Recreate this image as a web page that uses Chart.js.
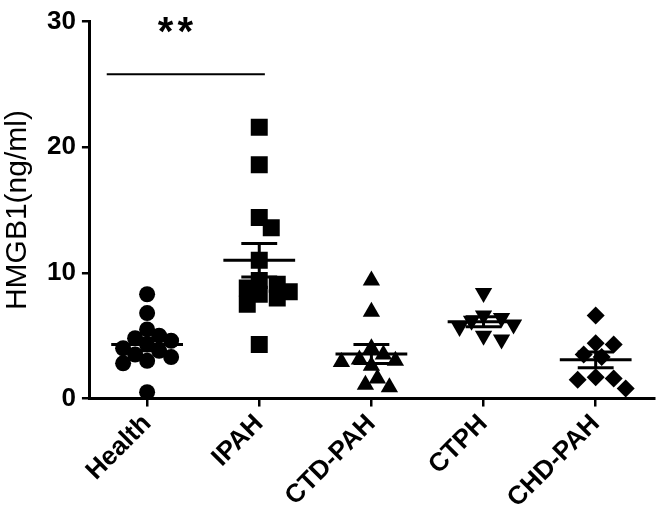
<!DOCTYPE html>
<html>
<head>
<meta charset="utf-8">
<script src="https://cdn.jsdelivr.net/npm/chart.js@4/dist/chart.umd.min.js"></script>
<style>
  html, body { margin: 0; padding: 0; background: #fff; }
  #wrap { width: 666px; height: 517px; }
</style>
</head>
<body>
<div id="wrap"><canvas id="chart"></canvas></div>
<script>
// groups on the x axis
var groups = ['Health', 'IPAH', 'CTD-PAH', 'CTPH', 'CHD-PAH'];

// HMGB1 (ng/ml) per subject
var health = [8.3, 6.8, 5.5, 5.0, 4.8, 4.6, 4.3, 4.0, 3.8, 3.5, 3.3, 3.0, 2.8, 0.5];
var ipah   = [21.6, 18.6, 14.4, 13.6, 11.0, 9.4, 9.1, 8.8, 8.5, 8.3, 8.0, 7.5, 4.3];
var ctdPah = [9.4, 6.9, 4.0, 3.5, 3.1, 3.0, 2.9, 2.6, 1.6, 1.1, 0.9];
var ctph   = [8.4, 6.6, 6.4, 6.2, 5.9, 5.7, 5.0, 4.7];
var chdPah = [6.6, 4.4, 4.3, 3.5, 3.3, 1.7, 1.6, 1.5, 0.8];

var yTicks = [0, 10, 20, 30];

// significance bracket between Health and IPAH
var sigLabel = '**';
var sigLevel = 25.8;

var series = [health, ipah, ctdPah, ctph, chdPah];
var markers = ['circle', 'rect', 'triangle', 'triangle', 'rectRot'];
var rotations = [0, 0, 0, 180, 0];
var radii = [8, 12, 10, 10, 9];

var FONT = '"Liberation Sans", Arial, sans-serif';

function mean(a) {
    return a.reduce(function (s, v) { return s + v; }, 0) / a.length;
}
function sem(a) {
    var m = mean(a);
    var ss = a.reduce(function (s, v) { return s + (v - m) * (v - m); }, 0);
    return Math.sqrt(ss / (a.length - 1)) / Math.sqrt(a.length);
}

// mean line, SEM whiskers and the ** bracket
var extras = {
    id: 'extras',
    afterDatasetsDraw: function (chart) {
        var ctx = chart.ctx, xs = chart.scales.x, ys = chart.scales.y;
        var band = xs.getPixelForValue(1) - xs.getPixelForValue(0);
        ctx.save();
        ctx.strokeStyle = '#000';
        ctx.lineCap = 'butt';
        series.forEach(function (vals, i) {
            var cx = xs.getPixelForValue(i);
            var m = mean(vals), s = sem(vals);
            var ym = ys.getPixelForValue(m);
            var yt = ys.getPixelForValue(m + s);
            var yb = ys.getPixelForValue(m - s);
            ctx.lineWidth = 3;
            ctx.beginPath();
            ctx.moveTo(cx - band * 0.32, ym); ctx.lineTo(cx + band * 0.32, ym);
            ctx.moveTo(cx - band * 0.16, yt); ctx.lineTo(cx + band * 0.16, yt);
            ctx.moveTo(cx - band * 0.16, yb); ctx.lineTo(cx + band * 0.16, yb);
            ctx.moveTo(cx, yt); ctx.lineTo(cx, yb);
            ctx.stroke();
        });
        // bracket
        var yl = ys.getPixelForValue(sigLevel);
        ctx.lineWidth = 2;
        ctx.beginPath();
        ctx.moveTo(xs.getPixelForValue(-0.36), yl);
        ctx.lineTo(xs.getPixelForValue(1.05), yl);
        ctx.stroke();
        ctx.fillStyle = '#000';
        ctx.font = 'bold 40px ' + FONT;
        ctx.letterSpacing = '4px';
        ctx.textAlign = 'center';
        ctx.textBaseline = 'middle';
        ctx.fillText(sigLabel, xs.getPixelForValue(0.27), ys.getPixelForValue(29.0));
        ctx.restore();
    }
};

// spread points sideways so they do not sit on top of each other
function swarm(chart) {
    var xs = chart.scales.x, ys = chart.scales.y;
    var band = xs.getPixelForValue(1) - xs.getPixelForValue(0);
    chart.data.datasets.forEach(function (ds, i) {
        var placed = [];
        ds.data.forEach(function (p) {
            var py = ys.getPixelForValue(p.y);
            var off = 0;
            for (var k = 0; k < 40; k++) {
                var cand = (k % 2 ? 1 : -1) * Math.ceil(k / 2) * 6;
                var ok = placed.every(function (q) {
                    return Math.hypot(q.x - cand, q.y - py) >= 13;
                });
                if (ok) { off = cand; break; }
            }
            placed.push({ x: off, y: py });
            p.x = i + off / band;
        });
    });
    chart.update('none');
}

function main() {
    var datasets = series.map(function (vals, i) {
        return {
            label: groups[i],
            data: vals.map(function (v) { return { x: i, y: v }; }),
            pointStyle: markers[i],
            rotation: rotations[i],
            pointRadius: radii[i],
            pointBackgroundColor: '#000',
            pointBorderColor: '#000',
            pointBorderWidth: 0
        };
    });

    var ctx = document.getElementById('chart');
    var chart = new Chart(ctx, {
        type: 'scatter',
        data: { datasets: datasets },
        options: {
            responsive: true,
            maintainAspectRatio: false,
            animation: false,
            layout: { padding: { left: 0, right: 2, top: 1, bottom: 1 } },
            plugins: { legend: { display: false }, tooltip: { enabled: false } },
            scales: {
                x: {
                    type: 'linear',
                    min: -0.51,
                    max: 4.52,
                    afterBuildTicks: function (s) {
                        s.ticks = groups.map(function (g, i) { return { value: i }; });
                    },
                    ticks: {
                        color: '#000',
                        minRotation: 45,
                        maxRotation: 45,
                        padding: 2,
                        font: { family: FONT, size: 26, weight: 'bold' },
                        callback: function (v) { return groups[v]; }
                    },
                    grid: { drawOnChartArea: false, color: '#000', lineWidth: 2.5, tickLength: 8 },
                    border: { color: '#000', width: 3 }
                },
                y: {
                    min: 0,
                    max: 30,
                    afterBuildTicks: function (s) {
                        s.ticks = yTicks.map(function (v) { return { value: v }; });
                    },
                    ticks: {
                        color: '#000',
                        padding: 6,
                        font: { family: FONT, size: 26, weight: 'bold' }
                    },
                    grid: { drawOnChartArea: false, color: '#000', lineWidth: 2.5, tickLength: 8 },
                    border: { color: '#000', width: 3 },
                    title: {
                        display: true,
                        text: 'HMGB1(ng/ml)',
                        color: '#000',
                        padding: { top: 0, bottom: 5 },
                        font: { family: FONT, size: 30 }
                    }
                }
            }
        },
        plugins: [extras]
    });
    swarm(chart);
}

document.addEventListener('DOMContentLoaded', main);
</script>
</body>
</html>
